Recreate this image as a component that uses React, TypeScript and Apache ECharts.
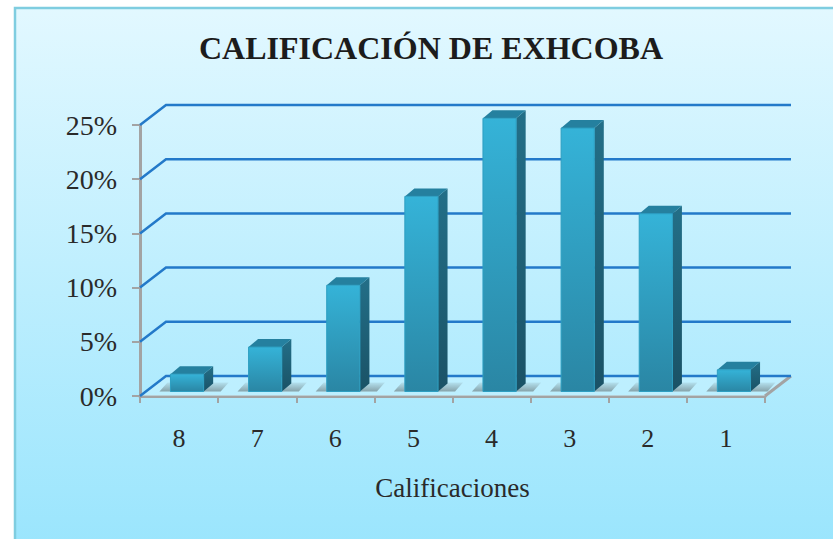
import React, { useEffect, useRef } from "react";
import * as echarts from "echarts";

const titleText = "CALIFICACIÓN DE EXHCOBA";
const axisTitle = "Calificaciones";
const categories = ["8", "7", "6", "5", "4", "3", "2", "1"];
const values = [1.6, 4.1, 9.8, 18.0, 25.2, 24.3, 16.4, 2.0];
const yTicks = [0, 5, 10, 15, 20, 25];

const FONT = "'Liberation Serif', 'Times New Roman', serif";
const DX = 26;
const DY = 20;
const GRID_BLUE = "#2379c9";
const AXIS_GREY = "#a3a3a3";
const TEXT = "#2a2a2a";

export default function App() {
  const ref = useRef<HTMLDivElement>(null);
  useEffect(() => {
    const chart = echarts.init(ref.current!, undefined, { renderer: "svg" });
    const left = 140;
    const right = 765;
    chart.setOption({
      animation: false,
      backgroundColor: "transparent",
      title: {
        text: titleText,
        left: 426,
        top: 27,
        textAlign: "center",
        textStyle: { fontFamily: FONT, fontSize: 32, fontWeight: "bold", color: "#1c1c1c" },
      },
      graphic: [
        {
          type: "rect",
          z: -10,
          shape: { x: 15, y: 8, width: 830, height: 540 },
          style: {
            fill: new echarts.graphic.LinearGradient(0, 0, 0, 1, [
              { offset: 0, color: "#e2f8ff" },
              { offset: 1, color: "#9ae5fd" },
            ]),
            stroke: "#7fcde0",
            lineWidth: 2.5,
          },
        },
      ],
      grid: { left, right: 833 - right, top: 125, bottom: 539 - 396 },
      xAxis: {
        type: "category",
        data: categories,
        boundaryGap: true,
        name: axisTitle,
        nameLocation: "middle",
        nameGap: 78,
        nameTextStyle: { fontFamily: FONT, fontSize: 27, color: TEXT },
        axisLine: { lineStyle: { color: AXIS_GREY, width: 3 } },
        axisTick: { show: true, length: 7, alignWithLabel: false, lineStyle: { color: AXIS_GREY, width: 2 } },
        axisLabel: { fontFamily: FONT, fontSize: 26, color: TEXT, margin: 29 },
      },
      yAxis: {
        type: "value",
        min: 0,
        max: 25,
        interval: 5,
        axisLine: { show: true, lineStyle: { color: AXIS_GREY, width: 3 } },
        axisTick: { show: true, length: 8, lineStyle: { color: AXIS_GREY, width: 2 } },
        axisLabel: { fontFamily: FONT, fontSize: 28, color: TEXT, margin: 23, formatter: "{value}%" },
        splitLine: { show: false },
      },
      series: [
        {
          type: "custom",
          name: "walls",
          coordinateSystem: "cartesian2d",
          z: 1,
          silent: true,
          data: yTicks.map((t) => [0, t]),
          renderItem: (_p: any, api: any) => {
            const tick = api.value(1);
            const y = api.coord([0, tick])[1];
            const children: any[] = [];
            if (tick === 0) {
              children.push({
                type: "polygon",
                shape: { points: [[left, y], [left + DX, y - DY], [right + DX, y - DY], [right, y]] },
                style: { fill: "rgba(200,242,255,0.55)" },
              });
              children.push({
                type: "line",
                shape: { x1: right, y1: y, x2: right + DX, y2: y - DY },
                style: { stroke: AXIS_GREY, lineWidth: 3 },
              });
            }
            children.push({
              type: "polyline",
              shape: { points: [[left, y], [left + DX, y - DY], [right + DX, y - DY]] },
              style: { fill: "none", stroke: GRID_BLUE, lineWidth: 2.5 },
            });
            return { type: "group", children };
          },
        },
        {
          type: "custom",
          name: "Calificaciones",
          coordinateSystem: "cartesian2d",
          z: 3,
          silent: true,
          data: values.map((v, i) => [i, v]),
          renderItem: (_p: any, api: any) => {
            const i = api.value(0);
            const v = api.value(1);
            const cw = api.size([1, 0])[0];
            const w = cw * 0.425;
            const cx = api.coord([i, 0])[0] + 8;
            const base = api.coord([i, 0])[1] - 4.5;
            const top = api.coord([i, v])[1] - 4.5;
            const x0 = cx - w / 2;
            const x1 = cx + w / 2;
            const dx = 9.5;
            const dy = 8;
            return {
              type: "group",
              children: [
                {
                  type: "polygon",
                  shape: { points: [[x0 - 11, base], [x0 - 3, base - 9], [x1 + 25, base - 9], [x1 + 17, base]] },
                  style: {
                    fill: new echarts.graphic.LinearGradient(0, 0, 0, 1, [
                      { offset: 0, color: "rgba(90,100,100,0.1)" },
                      { offset: 1, color: "rgba(90,100,100,0.55)" },
                    ]),
                  },
                },
                {
                  type: "polygon",
                  shape: { points: [[x1, top], [x1 + dx, top - dy], [x1 + dx, base - dy], [x1, base]] },
                  style: {
                    fill: new echarts.graphic.LinearGradient(0, 0, 0, 1, [
                      { offset: 0, color: "#236f88" },
                      { offset: 1, color: "#1a5266" },
                    ]),
                  },
                },
                {
                  type: "polygon",
                  shape: { points: [[x0, top], [x0 + dx, top - dy], [x1 + dx, top - dy], [x1, top]] },
                  style: { fill: "#25809f" },
                },
                {
                  type: "rect",
                  shape: { x: x0, y: top, width: w, height: base - top },
                  style: {
                    fill: new echarts.graphic.LinearGradient(0, 0, 0, 1, [
                      { offset: 0, color: "#35b3d8" },
                      { offset: 1, color: "#2a86a4" },
                    ]),
                    stroke: "#2d9fc2",
                    lineWidth: 1,
                  },
                },
              ],
            };
          },
        },
      ],
    });
    return () => chart.dispose();
  }, []);
  return (
    <div
      ref={ref}
      style={{ position: "fixed", left: 0, top: 0, width: 833, height: 539, background: "#fff", overflow: "hidden" }}
    />
  );
}
